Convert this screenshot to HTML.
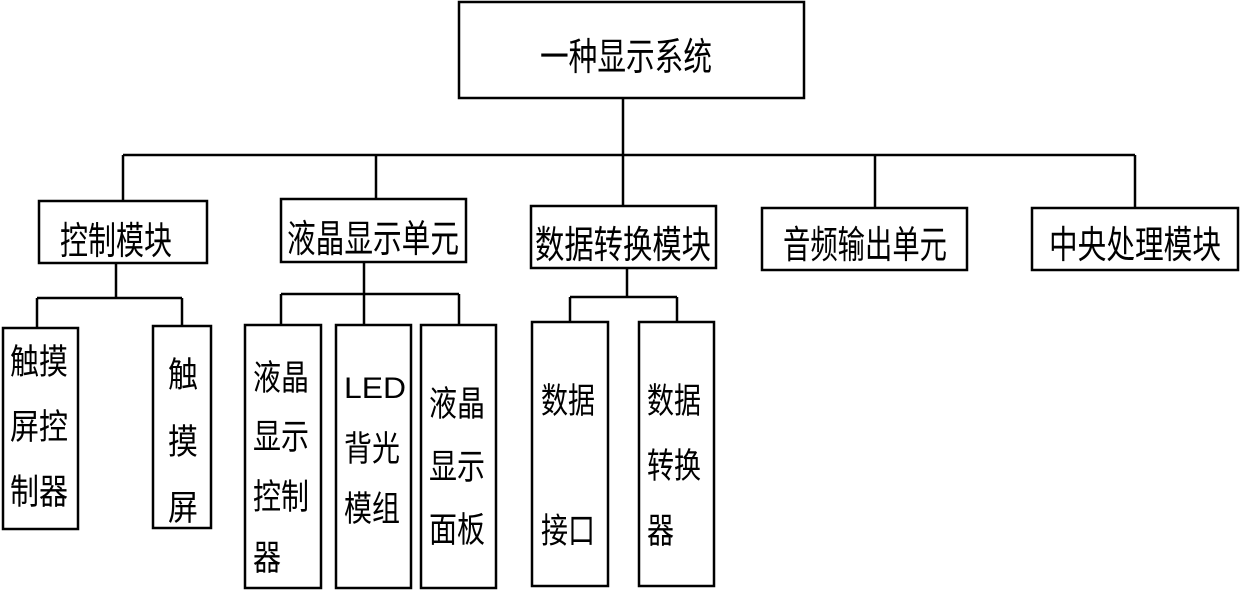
<!DOCTYPE html>
<html><head><meta charset="utf-8"><style>
html,body{margin:0;padding:0;background:#fff;}
svg text{font-family:"Liberation Sans","WenQuanYi Zen Hei","Noto Sans CJK SC",sans-serif;fill:#000;}
</style></head><body>
<svg width="1240" height="591" viewBox="0 0 1240 591" xmlns="http://www.w3.org/2000/svg">
<g fill="none" stroke="#000" stroke-width="2.5">
<rect x="459" y="2" width="345" height="96"/>
<line x1="623" y1="98" x2="623" y2="155"/>
<line x1="123" y1="155" x2="1135" y2="155"/>
<line x1="123" y1="155" x2="123" y2="201"/>
<line x1="376" y1="155" x2="376" y2="199"/>
<line x1="623" y1="155" x2="623" y2="206"/>
<line x1="875" y1="155" x2="875" y2="208"/>
<line x1="1135" y1="155" x2="1135" y2="208"/>
<rect x="39" y="201" width="168" height="62"/>
<rect x="281" y="199" width="185" height="63"/>
<rect x="531" y="206" width="185" height="62"/>
<rect x="762" y="208" width="205" height="62"/>
<rect x="1032" y="208" width="206" height="62"/>
<line x1="116" y1="263" x2="116" y2="298"/>
<line x1="37" y1="298" x2="182" y2="298"/>
<line x1="37" y1="298" x2="37" y2="328"/>
<line x1="182" y1="298" x2="182" y2="326"/>
<rect x="3" y="328" width="75" height="201"/>
<rect x="153" y="326" width="58" height="202"/>
<line x1="364" y1="262" x2="364" y2="294"/>
<line x1="281" y1="294" x2="459" y2="294"/>
<line x1="281" y1="294" x2="281" y2="325"/>
<line x1="364" y1="294" x2="364" y2="325"/>
<line x1="459" y1="294" x2="459" y2="325"/>
<rect x="245" y="325" width="76" height="263"/>
<rect x="336" y="325" width="75" height="263"/>
<rect x="421" y="325" width="75" height="263"/>
<line x1="627" y1="268" x2="627" y2="297"/>
<line x1="570" y1="297" x2="677" y2="297"/>
<line x1="570" y1="297" x2="570" y2="322"/>
<line x1="677" y1="297" x2="677" y2="322"/>
<rect x="532" y="322" width="76" height="264"/>
<rect x="639" y="322" width="75" height="264"/>
</g>
<g font-size="38">
<text x="540" y="70" textLength="172" lengthAdjust="spacingAndGlyphs">一种显示系统</text>
<text x="60" y="254" textLength="112" lengthAdjust="spacingAndGlyphs">控制模块</text>
<text x="287" y="252" textLength="172" lengthAdjust="spacingAndGlyphs">液晶显示单元</text>
<text x="535" y="258" textLength="176" lengthAdjust="spacingAndGlyphs">数据转换模块</text>
<text x="783" y="258" textLength="164" lengthAdjust="spacingAndGlyphs">音频输出单元</text>
<text x="1049" y="258" textLength="172" lengthAdjust="spacingAndGlyphs">中央处理模块</text>
</g>
<g font-size="35">
<text x="10" y="374" textLength="58" lengthAdjust="spacingAndGlyphs">触摸</text>
<text x="10" y="439" textLength="58" lengthAdjust="spacingAndGlyphs">屏控</text>
<text x="10" y="504" textLength="58" lengthAdjust="spacingAndGlyphs">制器</text>
<text x="168" y="387" textLength="30" lengthAdjust="spacingAndGlyphs">触</text>
<text x="168" y="454" textLength="30" lengthAdjust="spacingAndGlyphs">摸</text>
<text x="168" y="520" textLength="30" lengthAdjust="spacingAndGlyphs">屏</text>
<text x="253" y="390" textLength="56" lengthAdjust="spacingAndGlyphs">液晶</text>
<text x="253" y="449" textLength="56" lengthAdjust="spacingAndGlyphs">显示</text>
<text x="253" y="509" textLength="56" lengthAdjust="spacingAndGlyphs">控制</text>
<text x="253" y="570" textLength="28" lengthAdjust="spacingAndGlyphs">器</text>
<text x="344" y="398" font-size="30" textLength="62" lengthAdjust="spacingAndGlyphs">LED</text>
<text x="344" y="461" textLength="56" lengthAdjust="spacingAndGlyphs">背光</text>
<text x="344" y="521" textLength="56" lengthAdjust="spacingAndGlyphs">模组</text>
<text x="429" y="416" textLength="56" lengthAdjust="spacingAndGlyphs">液晶</text>
<text x="429" y="479" textLength="56" lengthAdjust="spacingAndGlyphs">显示</text>
<text x="429" y="542" textLength="56" lengthAdjust="spacingAndGlyphs">面板</text>
<text x="541" y="413" textLength="54" lengthAdjust="spacingAndGlyphs">数据</text>
<text x="541" y="543" textLength="54" lengthAdjust="spacingAndGlyphs">接口</text>
<text x="647" y="413" textLength="54" lengthAdjust="spacingAndGlyphs">数据</text>
<text x="647" y="478" textLength="54" lengthAdjust="spacingAndGlyphs">转换</text>
<text x="647" y="543" textLength="27" lengthAdjust="spacingAndGlyphs">器</text>
</g>
</svg>
</body></html>
